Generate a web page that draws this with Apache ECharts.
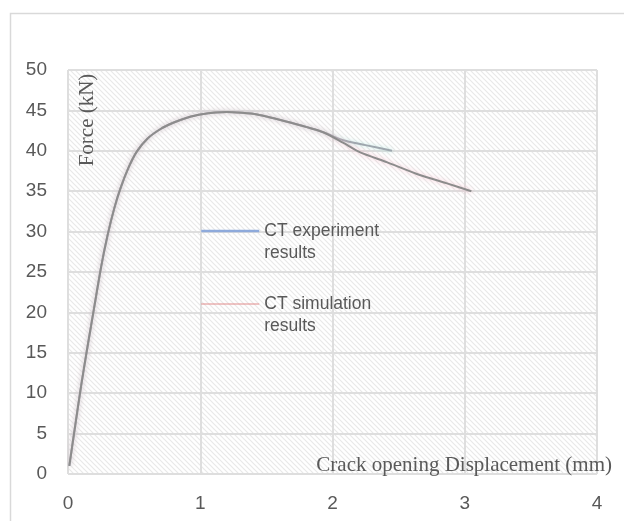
<!DOCTYPE html>
<html>
<head>
<meta charset="utf-8">
<script src="https://cdn.jsdelivr.net/npm/echarts@6/dist/echarts.min.js"></script>
<style>html,body{margin:0;padding:0;background:#fff}#c{width:624px;height:521px}</style>
</head>
<body>
<div id="c"></div>
<script>
// Data
const expX = [0.01, 0.05, 0.10, 0.15, 0.20, 0.25, 0.30, 0.35, 0.40, 0.46, 0.52, 0.60, 0.70, 0.80, 0.90, 1.0, 1.2, 1.43, 1.68, 1.93, 2.08, 2.25, 2.45];
const expY = [1, 5.5, 11, 16, 20.8, 25.6, 29.6, 32.9, 35.5, 38, 39.9, 41.5, 42.7, 43.5, 44.1, 44.5, 44.8, 44.5, 43.5, 42.3, 41.3, 40.7, 40.0];
const simX = [0.01, 0.05, 0.10, 0.15, 0.20, 0.25, 0.30, 0.35, 0.40, 0.46, 0.52, 0.60, 0.70, 0.80, 0.90, 1.0, 1.2, 1.43, 1.68, 1.93, 2.08, 2.21, 2.41, 2.66, 2.86, 3.05];
const simY = [1, 5.5, 11, 16, 20.8, 25.6, 29.6, 32.9, 35.5, 38, 39.9, 41.5, 42.7, 43.5, 44.1, 44.5, 44.8, 44.5, 43.5, 42.3, 41.0, 39.8, 38.6, 37.0, 36.0, 35.0];
const seriesNames = ['CT experiment results', 'CT simulation results'];
const yTicks = {min: 0, max: 50, interval: 5};
const xTicks = {min: 0, max: 4, interval: 1};

const zip = (xs, ys) => xs.map((x, i) => [x, ys[i]]);

// hatch pattern for plot background
const pc = document.createElement('canvas');
pc.width = 5; pc.height = 5;
const g = pc.getContext('2d');
g.fillStyle = '#ffffff'; g.fillRect(0, 0, 5, 5);
g.strokeStyle = 'rgba(0,0,0,0.09)'; g.lineWidth = 1.2;
g.beginPath();
g.moveTo(-1, -1); g.lineTo(6, 6);
g.moveTo(-1, 4); g.lineTo(1, 6);
g.moveTo(4, -1); g.lineTo(6, 1);
g.stroke();

const chart = echarts.init(document.getElementById('c'));
const txt = '#595959';
chart.setOption({
  animation: false,
  backgroundColor: '#ffffff',
  grid: {left: 68, right: 27, top: 70, bottom: 47, show: true, borderWidth: 0,
    backgroundColor: {image: pc, repeat: 'repeat'}},
  xAxis: {
    type: 'value', min: xTicks.min, max: xTicks.max, interval: xTicks.interval,
    axisLine: {show: false}, axisTick: {show: false},
    splitLine: {show: true, lineStyle: {color: '#dedede', width: 2}},
    axisLabel: {color: txt, fontSize: 19, fontFamily: 'Liberation Sans', margin: 20}
  },
  yAxis: {
    type: 'value', min: yTicks.min, max: yTicks.max, interval: yTicks.interval,
    axisLine: {show: false}, axisTick: {show: false},
    splitLine: {show: true, lineStyle: {color: '#dedede', width: 2}},
    axisLabel: {color: txt, fontSize: 19, fontFamily: 'Liberation Sans', margin: 21}
  },
  legend: {
    orient: 'vertical', left: 200, top: 198, itemGap: 7, padding: 0,
    itemWidth: 58, itemHeight: 10,
    formatter: n => ' \n' + n.replace(' results', '\nresults'),
    textStyle: {color: txt, fontSize: 17.5, fontFamily: 'Liberation Sans', lineHeight: 22},
    data: [
      {name: seriesNames[0], itemStyle: {color: 'transparent', borderWidth: 0, opacity: 0},
        lineStyle: {color: '#8eaadb', width: 2.5, shadowBlur: 0, shadowColor: 'transparent', opacity: 1}},
      {name: seriesNames[1], itemStyle: {color: 'transparent', borderWidth: 0, opacity: 0},
        lineStyle: {color: '#e08a8a', width: 1, shadowBlur: 0, shadowColor: 'transparent', opacity: 1}}
    ]
  },
  graphic: [
    {type: 'rect', left: 8, top: 11, shape: {width: 700, height: 600},
      style: {fill: 'none', stroke: '#d9d9d9', lineWidth: 1.5}, silent: true, z: 100},
    {type: 'text', x: 87, y: 120, rotation: Math.PI / 2,
      style: {text: 'Force (kN)', fill: txt, font: '21px "Liberation Serif"', align: 'center', verticalAlign: 'middle'}, z: 100},
    {type: 'text', x: 612, y: 465,
      style: {text: 'Crack opening Displacement (mm)', fill: txt, font: '21px "Liberation Serif"', align: 'right', verticalAlign: 'middle'}, z: 100}
  ],
  series: [
    {name: seriesNames[0], type: 'line', data: zip(expX, expY), symbol: 'none', smooth: 0.2,
      lineStyle: {color: '#9ea7ae', width: 2, shadowColor: 'rgba(150,220,210,0.6)', shadowBlur: 4}, z: 2},
    {name: seriesNames[1], type: 'line', data: zip(simX, simY), symbol: 'none', smooth: 0.2,
      lineStyle: {color: '#8c8c8c', width: 2, shadowColor: 'rgba(245,170,190,0.7)', shadowBlur: 5}, z: 3}
  ]
});
</script>
</body>
</html>
